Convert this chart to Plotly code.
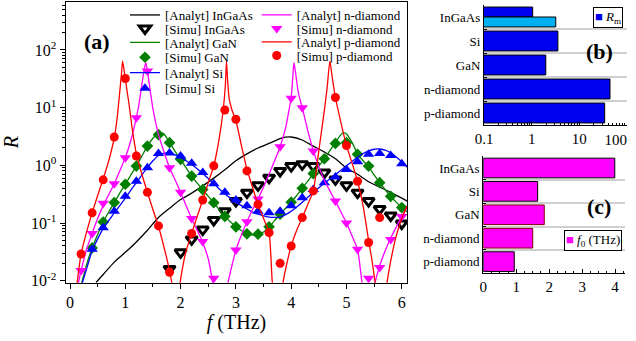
import plotly.graph_objects as go

# ---------------- main panel (a) data ----------------
# InGaAs
f_an_ingaas = [0.47, 0.6, 0.8, 1.0, 1.2, 1.4, 1.6, 1.8, 2.0, 2.2, 2.4, 2.6, 2.8, 3.0, 3.2, 3.4, 3.6, 3.8, 3.9, 4.0,
               4.2, 4.4, 4.6, 4.8, 5.0, 5.2, 5.4, 5.6, 5.8, 6.0, 6.1]
R_an_ingaas = [0.0093, 0.0128, 0.021, 0.031, 0.047, 0.075, 0.125, 0.18, 0.255, 0.33, 0.44, 0.6, 0.84, 1.2, 1.58, 2.0,
               2.4, 2.9, 3.08, 3.1, 2.75, 2.15, 1.7, 1.3, 0.9, 0.7, 0.52, 0.42, 0.34, 0.27, 0.24]
f_sim_ingaas = [1.8, 2.0, 2.2, 2.4, 2.6, 2.8, 3.0, 3.2, 3.4, 3.6, 3.8, 4.0, 4.2, 4.4, 4.6, 4.8, 5.0, 5.2, 5.4, 5.6,
                5.8, 6.0]
R_sim_ingaas = [0.016, 0.031, 0.052, 0.077, 0.113, 0.16, 0.24, 0.336, 0.45, 0.61, 0.8, 0.97, 1.04, 0.97, 0.75, 0.57,
                0.45, 0.336, 0.24, 0.175, 0.135, 0.098]

# GaN
f_an_gan = [0.21, 0.3, 0.4, 0.5, 0.6, 0.7, 0.8, 0.9, 1.0, 1.1, 1.2, 1.3, 1.4, 1.5, 1.6, 1.65, 1.7, 1.8, 1.9, 2.0,
            2.1, 2.2, 2.3, 2.4, 2.5, 2.6, 2.7, 2.8, 2.9, 3.0, 3.1, 3.2, 3.3, 3.4, 3.5, 3.6, 3.7, 3.8, 3.9, 4.0,
            4.1, 4.2, 4.3, 4.4, 4.5, 4.6, 4.7, 4.8, 4.9, 4.95, 5.0, 5.1, 5.2, 5.3, 5.4, 5.5, 5.6, 5.7, 5.8, 5.9,
            6.0, 6.1]
R_an_gan = [0.009, 0.019, 0.037, 0.063, 0.104, 0.155, 0.226, 0.33, 0.47, 0.68, 0.97, 1.45, 2.15, 2.95, 3.6, 3.7,
            3.5, 2.5, 1.75, 1.27, 0.9, 0.65, 0.49, 0.38, 0.29, 0.225, 0.17, 0.13, 0.105, 0.086, 0.074, 0.066,
            0.062, 0.063, 0.07, 0.085, 0.11, 0.142, 0.18, 0.23, 0.3, 0.4, 0.53, 0.72, 0.97, 1.3, 1.8, 2.5, 3.4,
            3.7, 3.5, 2.5, 1.6, 1.2, 0.95, 0.68, 0.5, 0.38, 0.29, 0.23, 0.185, 0.155]
f_sim_gan = [0.4, 0.6, 0.8, 1.0, 1.2, 1.4, 1.6, 1.8, 2.0, 2.2, 2.4, 2.6, 2.8, 3.0, 3.2, 3.4, 3.6, 3.8, 4.0, 4.2,
             4.4, 4.6, 4.8, 5.0, 5.2, 5.4, 5.6, 5.8, 6.0]
R_sim_gan = [0.037, 0.104, 0.226, 0.47, 0.97, 2.16, 3.4, 2.47, 1.27, 0.65, 0.38, 0.225, 0.13, 0.086, 0.065, 0.064,
             0.086, 0.142, 0.23, 0.4, 0.72, 1.3, 2.4, 2.47, 1.55, 0.97, 0.5, 0.29, 0.185]

# Si
f_an_si = [0.22, 0.3, 0.4, 0.5, 0.6, 0.7, 0.8, 0.9, 1.0, 1.1, 1.2, 1.3, 1.4, 1.5, 1.6, 1.7, 1.8, 1.9, 2.0, 2.1,
           2.2, 2.3, 2.4, 2.5, 2.6, 2.7, 2.8, 2.9, 3.0, 3.1, 3.2, 3.3, 3.4, 3.5, 3.6, 3.7, 3.8, 3.9, 4.0, 4.1,
           4.2, 4.3, 4.4, 4.5, 4.6, 4.7, 4.8, 4.9, 5.0, 5.1, 5.2, 5.3, 5.4, 5.5, 5.55, 5.6, 5.7, 5.8, 5.9, 6.0, 6.1]
R_an_si = [0.009, 0.016, 0.033, 0.053, 0.08, 0.11, 0.15, 0.2, 0.27, 0.37, 0.5, 0.68, 0.92, 1.2, 1.48, 1.62, 1.62,
           1.52, 1.37, 1.2, 1.03, 0.87, 0.72, 0.59, 0.48, 0.39, 0.32, 0.27, 0.23, 0.2, 0.175, 0.155, 0.142, 0.133,
           0.127, 0.125, 0.128, 0.14, 0.16, 0.19, 0.23, 0.28, 0.34, 0.41, 0.49, 0.58, 0.69, 0.82, 0.98, 1.17,
           1.38, 1.6, 1.78, 1.9, 1.93, 1.92, 1.83, 1.65, 1.4, 1.15, 0.92]
f_sim_si = [0.4, 0.6, 0.8, 1.0, 1.2, 1.4, 1.6, 1.8, 2.0, 2.2, 2.4, 2.6, 2.8, 3.0, 3.2, 3.4, 3.6, 3.8, 4.0, 4.2,
            4.4, 4.6, 4.8, 5.0, 5.2, 5.4, 5.6, 5.8, 6.0]
R_sim_si = [0.035, 0.083, 0.16, 0.29, 0.53, 0.91, 1.6, 1.64, 1.45, 1.09, 0.75, 0.48, 0.34, 0.25, 0.2, 0.16, 0.15,
            0.16, 0.2, 0.275, 0.38, 0.5, 0.63, 0.85, 1.15, 1.55, 1.6, 1.48, 1.07]

# n-diamond
f_an_ndia = [0.15, 0.2, 0.3, 0.4, 0.5, 0.6, 0.7, 0.8, 0.9, 1.0, 1.1, 1.2, 1.25, 1.3, 1.34, 1.37, 1.4, 1.45, 1.5,
             1.55, 1.6, 1.7, 1.8, 1.9, 2.0, 2.1, 2.2, 2.3, 2.4, 2.5, 2.58, 2.72, 2.86, 2.9, 3.0, 3.1, 3.2, 3.3,
             3.4, 3.5, 3.6, 3.7, 3.8, 3.9, 3.95, 4.0, 4.03, 4.05, 4.08, 4.13, 4.2, 4.3, 4.4, 4.5, 4.6, 4.7, 4.8,
             4.9, 5.0, 5.1, 5.2, 5.28, 5.4, 5.52, 5.6, 5.7, 5.8, 5.9, 6.0, 6.1]
R_an_ndia = [0.009, 0.015, 0.035, 0.066, 0.12, 0.2, 0.31, 0.48, 0.8, 1.36, 2.7, 6.7, 12, 25, 45, 60, 43, 20, 9.5,
             5.5, 3.4, 1.7, 0.91, 0.56, 0.34, 0.2, 0.12, 0.075, 0.046, 0.024, 0.0095, 0.002, 0.0095, 0.014, 0.034,
             0.062, 0.105, 0.17, 0.26, 0.42, 0.7, 1.2, 2.1, 4.5, 8, 15, 35, 60, 40, 18, 10, 4, 1.8, 0.95, 0.55,
             0.36, 0.24, 0.155, 0.1, 0.06, 0.035, 0.0095, 0.002, 0.0095, 0.018, 0.033, 0.055, 0.085, 0.13, 0.19]
f_sim_ndia = [0.2, 0.4, 0.6, 0.8, 1.0, 1.2, 1.4, 1.8, 2.0, 2.2, 2.4, 2.6, 3.0, 3.2, 3.4, 3.8, 4.0, 4.2, 4.4, 4.8,
              5.0, 5.2, 5.4, 5.6, 5.8, 6.0]
R_sim_ndia = [0.015, 0.066, 0.22, 0.48, 1.36, 6.7, 43, 0.91, 0.34, 0.12, 0.048, 0.011, 0.034, 0.105, 0.26, 2.1,
              14.5, 10, 1.77, 0.24, 0.1, 0.035, 0.011, 0.017, 0.052, 0.13]

# p-diamond
f_an_pdia = [0.12, 0.2, 0.3, 0.4, 0.5, 0.6, 0.7, 0.8, 0.85, 0.88, 0.91, 0.93, 0.95, 0.97, 1.0, 1.03, 1.07, 1.13,
             1.2, 1.3, 1.4, 1.5, 1.6, 1.7, 1.8, 1.85, 1.92, 1.99, 2.05, 2.1, 2.2, 2.3, 2.4, 2.5, 2.6, 2.7, 2.77,
             2.81, 2.83, 2.85, 2.88, 2.93, 3.0, 3.1, 3.2, 3.3, 3.4, 3.5, 3.6, 3.63, 3.66, 3.76, 3.85, 3.9, 4.0,
             4.1, 4.2, 4.3, 4.4, 4.5, 4.6, 4.65, 4.7, 4.74, 4.8, 4.9, 5.0, 5.1, 5.2, 5.3, 5.4, 5.47, 5.52, 5.62,
             5.73, 5.8, 5.9, 6.0, 6.1]
R_an_pdia = [0.008, 0.029, 0.07, 0.15, 0.3, 0.58, 1.2, 3.0, 6.3, 12, 24, 38, 64, 50, 32, 20, 11, 4, 1.6, 0.7,
             0.34, 0.17, 0.088, 0.038, 0.015, 0.008, 0.002, 0.009, 0.02, 0.033, 0.066, 0.13, 0.25, 0.5, 0.98, 3,
             9, 25, 64, 30, 14, 9, 6, 2.2, 0.85, 0.42, 0.21, 0.12, 0.068, 0.03, 0.009, 0.002, 0.009, 0.016, 0.04,
             0.075, 0.124, 0.21, 0.36, 1.8, 9, 22, 64, 35, 15, 5.5, 2.2, 1.1, 0.53, 0.2, 0.05, 0.02, 0.009, 0.002,
             0.009, 0.022, 0.06, 0.12, 0.2]
f_sim_pdia = [0.2, 0.4, 0.6, 0.8, 1.0, 1.2, 1.4, 1.6, 1.8, 2.2, 2.4, 2.6, 2.8, 3.0, 3.2, 3.4, 3.6, 3.8, 4.0, 4.2,
              4.4, 4.8, 5.0, 5.2, 5.4, 5.6]
R_sim_pdia = [0.029, 0.15, 0.56, 3.1, 32, 1.45, 0.34, 0.089, 0.014, 0.066, 0.25, 0.98, 9.1, 6.3, 0.8, 0.21, 0.068,
              0.02, 0.04, 0.124, 0.36, 15, 2.2, 0.53, 0.046, 0.124]

# ---------------- panels (b) and (c) data ----------------
materials = ["InGaAs", "Si", "GaN", "n-diamond", "p-diamond"]
Rm_values = [1.05, 3.55, 1.98, 44, 34]
Rm_ingaas_second = [3.2]
f0_values = [3.99, 1.65, 1.85, 1.5, 0.94]

y_ticks_main = [0.01, 0.1, 1, 10, 100]
y_ticktext_main = ["10<sup>-2</sup>", "10<sup>-1</sup>", "10<sup>0</sup>", "10<sup>1</sup>", "10<sup>2</sup>"]
b_ticks = [0.1, 1, 10, 100]
b_ticktext = ["0.1", "1", "10", ""]
b_last_tick = [100]
b_last_ticktext = ["100"]

W, H = 636, 341
SERIF = "Liberation Serif"


def fx(p):
    return p / W


def fy(p):
    return 1 - p / H


fig = go.Figure()

series = [
    ("[Analyt] InGaAs", f_an_ingaas, R_an_ingaas, "line", dict(color="black")),
    ("[Simu] InGaAs", f_sim_ingaas, R_sim_ingaas, "marker",
     dict(symbol="triangle-down", size=10, color="white", line=dict(color="black", width=3))),
    ("[Analyt] GaN", f_an_gan, R_an_gan, "line", dict(color="#008000")),
    ("[Simu] GaN", f_sim_gan, R_sim_gan, "marker",
     dict(symbol="diamond", size=9, color="#008000", line=dict(width=0))),
    ("[Analyt] Si", f_an_si, R_an_si, "line", dict(color="#0000ff")),
    ("[Simu] Si", f_sim_si, R_sim_si, "marker",
     dict(symbol="triangle-up", size=10, color="#0000ff", line=dict(width=0))),
    ("[Analyt] n-diamond", f_an_ndia, R_an_ndia, "line", dict(color="#ff00ff")),
    ("[Simu] n-diamond", f_sim_ndia, R_sim_ndia, "marker",
     dict(symbol="triangle-down", size=10, color="#ff00ff", line=dict(width=0))),
    ("[Analyt] p-diamond", f_an_pdia, R_an_pdia, "line", dict(color="#ff0000")),
    ("[Simu] p-diamond", f_sim_pdia, R_sim_pdia, "marker",
     dict(symbol="circle", size=9, color="#ff0000", line=dict(width=0))),
]

legend_rows = [(125, 15.0), (125, 28.5), (125, 42.5), (125, 57.3), (125, 72.7), (125, 88.3),
               (256.7, 15.0), (256.7, 28.5), (256.7, 42.0), (256.7, 55.5)]

legend_layout = {}
for i, (name, fx_, ry_, kind, style) in enumerate(series):
    key = "legend" if i == 0 else f"legend{i + 1}"
    if kind == "line":
        tr = go.Scatter(x=fx_, y=ry_, mode="lines", name=name,
                        line=dict(color=style["color"], width=1.3, shape="spline", smoothing=0.6),
                        legend=key, xaxis="x", yaxis="y")
    else:
        tr = go.Scatter(x=fx_, y=ry_, mode="markers", name=name, marker=style,
                        legend=key, xaxis="x", yaxis="y", cliponaxis=True)
    fig.add_trace(tr)
    lx, ly = legend_rows[i]
    legend_layout[key] = dict(x=fx(lx), y=fy(ly), xanchor="left", yanchor="middle",
                              bgcolor="rgba(0,0,0,0)", borderwidth=0,
                              font=dict(family=SERIF, size=13, color="black"))

# panel (b) bars
fig.add_trace(go.Bar(y=materials, x=Rm_values, orientation="h", xaxis="x2", yaxis="y2",
                     width=[0.415, 0.83, 0.83, 0.83, 0.83], offset=[-0.415] * 5,
                     marker=dict(color="#0000f0", line=dict(color="black", width=1)),
                     showlegend=False))
# second InGaAs bar, drawn on the overlaying twin of the same log axis
fig.add_trace(go.Bar(y=materials[:1], x=Rm_ingaas_second, orientation="h", xaxis="x4", yaxis="y2",
                     width=[0.415], offset=[0],
                     marker=dict(color="#00b0f0", line=dict(color="black", width=1)),
                     showlegend=False))
# panel (c) bars
fig.add_trace(go.Bar(y=materials, x=f0_values, orientation="h", xaxis="x3", yaxis="y3",
                     width=0.84,
                     marker=dict(color="#ff00ff",
                                 line=dict(color=["black", "black", "#800000", "#800000", "black"], width=1)),
                     showlegend=False))

axis_common = dict(showline=True, linecolor="black", linewidth=1.2, zeroline=False, automargin=False,
                   tickcolor="black", tickfont=dict(family=SERIF, size=16, color="black"))

fig.update_layout(
    width=W, height=H, margin=dict(l=0, r=0, t=0, b=0, autoexpand=False),
    paper_bgcolor="white", plot_bgcolor="white",
    barmode="overlay", hovermode=False,
    font=dict(family=SERIF, color="black"),
    xaxis=dict(domain=[fx(65.7), fx(407.3)], range=[-0.078, 6.1], anchor="y",
               tick0=0, dtick=1, ticks="outside", ticklen=5, mirror=True, showgrid=False,
               minor=dict(dtick=0.5, ticks="outside", ticklen=3, tickcolor="black", showgrid=False),
               title=dict(text="<i>f</i> (THz)", font=dict(family=SERIF, size=20, color="black"), standoff=2),
               **axis_common),
    yaxis=dict(domain=[1 - 282.7 / H, 1 - 1.7 / H], type="log", range=[-2.035, 2.837], anchor="x",
               tickmode="array", tickvals=y_ticks_main, ticktext=y_ticktext_main,
               ticks="outside", ticklen=5, mirror=True, showgrid=False,
               minor=dict(ticks="outside", ticklen=3, tickcolor="black", dtick="D1", showgrid=False),
               title=dict(text="<i>R</i>", font=dict(family=SERIF, size=20, color="black"), standoff=8),
               **axis_common),
    xaxis2=dict(domain=[fx(484), fx(627)], type="log", range=[-1, 2], anchor="y2",
                tickmode="array", tickvals=b_ticks, ticktext=b_ticktext,
                ticks="inside", ticklen=4, showgrid=False,
                minor=dict(ticks="inside", ticklen=2, tickcolor="black", dtick="D1", showgrid=False),
                showline=True, linecolor="black", linewidth=1.2, zeroline=False, tickcolor="black",
                tickfont=dict(family=SERIF, size=15, color="black")),
    xaxis4=dict(overlaying="x2", anchor="y2", side="bottom", type="log", range=[-1, 2],
                tickmode="array", tickvals=b_last_tick, ticktext=b_last_ticktext,
                ticklabelposition="outside left", ticklabelstandoff=4, ticks="", showline=False,
                showgrid=False, zeroline=False, tickfont=dict(family=SERIF, size=15, color="black")),
    yaxis2=dict(domain=[1 - 125 / H, 1 - 5 / H], type="category", anchor="x2",
                categoryorder="array", categoryarray=materials, range=[4.5, -0.5],
                tickson="boundaries", ticks="inside", ticklen=3, tickcolor="black",
                showgrid=True, gridcolor="#cfcfcf", gridwidth=1.5,
                showline=True, linecolor="black", linewidth=1.2, zeroline=False,
                tickfont=dict(family=SERIF, size=13, color="black")),
    xaxis3=dict(domain=[fx(483.3), fx(625)], range=[0, 4.3], anchor="y3",
                tick0=0, dtick=1, ticks="inside", ticklen=4, showgrid=False,
                minor=dict(dtick=0.25, ticks="inside", ticklen=2, tickcolor="black", showgrid=False),
                showline=True, linecolor="black", linewidth=1.2, zeroline=False, tickcolor="black",
                tickfont=dict(family=SERIF, size=15, color="black")),
    yaxis3=dict(domain=[1 - 273.3 / H, 1 - 156.3 / H], type="category", anchor="x3",
                categoryorder="array", categoryarray=materials, range=[4.5, -0.5],
                tickson="boundaries", ticks="inside", ticklen=3, tickcolor="black",
                showgrid=True, gridcolor="#cfcfcf", gridwidth=1.5,
                showline=True, linecolor="black", linewidth=1.2, zeroline=False,
                tickfont=dict(family=SERIF, size=13, color="black")),
    **legend_layout,
)

annotations = [
    dict(text="<b>(a)</b>", x=fx(96.7), y=fy(41.7), font=dict(size=22)),
    dict(text="<b>(b)</b>", x=fx(599), y=fy(51.7), font=dict(size=22)),
    dict(text="<b>(c)</b>", x=fx(599), y=fy(206.7), font=dict(size=22)),
    dict(text='<span style="color:#0000f0">■</span> <i>R</i><sub>m</sub>', x=fx(608), y=fy(17.5),
         font=dict(size=13), bordercolor="black", borderwidth=1, borderpad=1, bgcolor="white"),
    dict(text='<span style="color:#ff00ff">■</span> <i>f</i><sub>0</sub> (THz)', x=fx(592.5), y=fy(240),
         font=dict(size=13), bordercolor="black", borderwidth=1, borderpad=1, bgcolor="white"),
]
for a in annotations:
    a.update(xref="paper", yref="paper", showarrow=False, xanchor="center", yanchor="middle")
    a["font"] = dict(family=SERIF, color="black", size=a["font"]["size"])
fig.update_layout(annotations=annotations)

fig.write_html("out.html")
